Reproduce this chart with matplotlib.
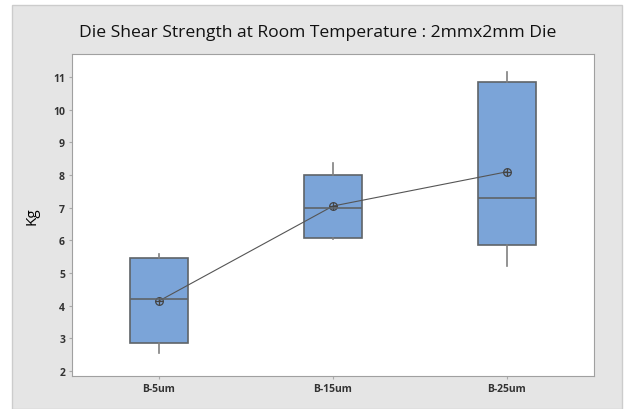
import numpy as np
import matplotlib.pyplot as plt
from matplotlib.patches import Rectangle

plt.rcParams['font.family'] = ['Open Sans', 'DejaVu Sans']

# グループ
labels = ['B-5um', 'B-15um', 'B-25um']
# 箱ひげ図の統計量 (Kg)
whislo = [2.53, 6.04, 5.20]
q1 = [2.86, 6.07, 5.86]
med = [4.19, 6.98, 7.30]
q3 = [5.45, 8.01, 10.85]
whishi = [5.58, 8.37, 11.17]
# 平均値
means = [4.14, 7.05, 8.10]

stats = []
for i in range(len(labels)):
    stats.append(dict(label=labels[i], whislo=whislo[i], q1=q1[i], med=med[i],
                      q3=q3[i], whishi=whishi[i], mean=means[i], fliers=[]))

fig = plt.figure(figsize=(6.28, 4.10), dpi=100)
fig.patch.set_facecolor('white')
# 背景の灰色パネル
fig.patches.append(Rectangle((12/628, 0), 610/628, 404/410, transform=fig.transFigure,
                             facecolor='#e5e5e5', edgecolor='#cccccc', lw=1, zorder=-1))

ax = fig.add_axes([72/628, 1-377/410, 522/628, 322/410])
pos = np.arange(1, len(labels)+1)
edge = '#5f6468'
ax.bxp(stats, positions=pos, widths=0.33, patch_artist=True, showcaps=False,
       boxprops=dict(facecolor='#7ba4d8', edgecolor=edge, lw=1.2),
       medianprops=dict(color=edge, lw=1.2),
       whiskerprops=dict(color='#808080', lw=1.2))

# 平均値を結ぶ線
ax.plot(pos, means, color='#555555', lw=0.8)
ax.plot(pos, means, 'o', ms=5.5, mfc='none', mec='#444444', mew=0.9)
ax.plot(pos, means, '+', ms=5.5, mec='#444444', mew=0.9)

ax.set_xlim(0.5, 3.5)
ax.set_ylim(1.84, 11.71)
ax.set_yticks(range(2, 12))
ax.set_xticks(pos)
ax.set_xticklabels(labels)
ax.tick_params(labelsize=7.5, length=2, color='#aaaaaa', pad=3)
for t in ax.get_yticklabels() + ax.get_xticklabels():
    t.set_fontweight('bold')
    t.set_color('#333333')
for s in ax.spines.values():
    s.set_color('#a0a0a0')
ax.set_ylabel('Kg', fontsize=11, labelpad=10)
fig.text(318/628, 1-33/410, 'Die Shear Strength at Room Temperature : 2mmx2mm Die',
         ha='center', va='center', fontsize=12.6, color='#111111')

fig.savefig('out.png', dpi=100)
